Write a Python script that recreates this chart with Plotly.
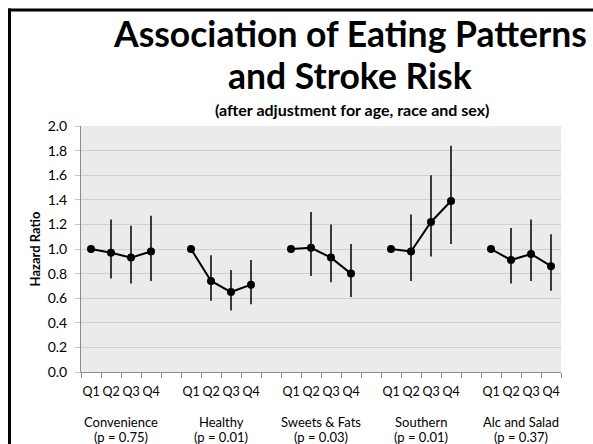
import plotly.graph_objects as go

# Hazard ratios by quartile for each dietary pattern (Q1 is the reference group)
groups = ["Convenience", "Healthy", "Sweets & Fats", "Southern", "Alc and Salad"]
p_values = ["0.75", "0.01", "0.03", "0.01", "0.37"]
quartiles = ["Q1", "Q2", "Q3", "Q4"]

hr_convenience = [1.00, 0.97, 0.93, 0.98]
hr_healthy = [1.00, 0.74, 0.65, 0.71]
hr_sweets = [1.00, 1.01, 0.93, 0.80]
hr_southern = [1.00, 0.98, 1.22, 1.39]
hr_alc_salad = [1.00, 0.91, 0.96, 0.86]

ci_low_convenience = [1.00, 0.76, 0.72, 0.74]
ci_high_convenience = [1.00, 1.24, 1.19, 1.27]
ci_low_healthy = [1.00, 0.58, 0.50, 0.55]
ci_high_healthy = [1.00, 0.95, 0.83, 0.91]
ci_low_sweets = [1.00, 0.78, 0.73, 0.61]
ci_high_sweets = [1.00, 1.30, 1.20, 1.04]
ci_low_southern = [1.00, 0.74, 0.94, 1.04]
ci_high_southern = [1.00, 1.28, 1.60, 1.84]
ci_low_alc_salad = [1.00, 0.72, 0.74, 0.66]
ci_high_alc_salad = [1.00, 1.17, 1.24, 1.12]

y_ticks = [0.0, 0.2, 0.4, 0.6, 0.8, 1.0, 1.2, 1.4, 1.6, 1.8, 2.0]

hr_all = [hr_convenience, hr_healthy, hr_sweets, hr_southern, hr_alc_salad]
lo_all = [ci_low_convenience, ci_low_healthy, ci_low_sweets, ci_low_southern, ci_low_alc_salad]
hi_all = [ci_high_convenience, ci_high_healthy, ci_high_sweets, ci_high_southern, ci_high_alc_salad]

FONT = "Lato"
W, H = 593, 444
ML, MR, MT, MB = 81, 32, 126, 72
PW, PH = W - ML - MR, H - MT - MB

def px(x):
    return (x - ML) / PW

def py(y):
    return (H - MB - y) / PH

fig = go.Figure()

# each pattern occupies 4 category slots followed by one empty slot
slot = 5
tickvals, ticktext = [], []
for g, name in enumerate(groups):
    xs = [g * slot + i + 0.5 for i in range(4)]
    tickvals += xs
    ticktext += quartiles
    hr = hr_all[g]
    plus = [h - v for h, v in zip(hi_all[g], hr)]
    minus = [v - l for l, v in zip(lo_all[g], hr)]
    fig.add_trace(go.Scatter(
        x=xs, y=hr, mode="lines+markers",
        line=dict(color="black", width=2),
        marker=dict(color="black", size=8),
        error_y=dict(type="data", symmetric=False, array=plus, arrayminus=minus,
                     color="black", thickness=1.5, width=0),
        showlegend=False, name=name,
    ))

n_slots = len(groups) * slot - 1

fig.update_xaxes(
    range=[0, n_slots], tickvals=tickvals, ticktext=ticktext,
    ticks="", showgrid=False, zeroline=False,
    showline=True, linecolor="#8c8c8c", linewidth=1,
    tickfont=dict(family=FONT, size=12.5, color="black"),
    minor=dict(tick0=0, dtick=1, ticks="outside", ticklen=5, tickcolor="#8c8c8c", showgrid=False),
    ticklabelstandoff=8,
)
fig.update_yaxes(
    range=[0, 2.0], tickvals=y_ticks, ticktext=[f"{v:.1f}" for v in y_ticks],
    ticks="outside", ticklen=5, tickcolor="#c8c8c8",
    showgrid=True, gridcolor="#d0d0d0", gridwidth=1, zeroline=False,
    showline=True, linecolor="#8c8c8c", linewidth=1,
    tickfont=dict(family=FONT, size=14, color="black"),
    ticklabelstandoff=5,
    title=dict(text="<b>Hazard Ratio</b>", font=dict(family=FONT, size=13, color="black"), standoff=4),
)

annotations = [
    dict(text="<b>Association of Eating Patterns</b>", x=px(350), y=py(34),
         font=dict(size=35.5, family=FONT, color="black")),
    dict(text="<b>and Stroke Risk</b>", x=px(350), y=py(76),
         font=dict(size=35.5, family=FONT, color="black")),
    dict(text="<b>(after adjustment for age, race and sex)</b>", x=px(352), y=py(109),
         font=dict(size=16, family=FONT, color="black")),
]
for g, (name, p) in enumerate(zip(groups, p_values)):
    cx = g * slot + 2
    annotations.append(dict(text=name, x=cx, xref="x", y=py(422),
                            font=dict(size=13, family=FONT, color="black")))
    annotations.append(dict(text=f"(p = {p})", x=cx, xref="x", y=py(437),
                            font=dict(size=13, family=FONT, color="black")))
for a in annotations:
    a.setdefault("xref", "paper")
    a.update(yref="paper", showarrow=False, xanchor="center", yanchor="middle")

fig.update_layout(
    width=W, height=H,
    margin=dict(l=ML, r=MR, t=MT, b=MB),
    paper_bgcolor="white", plot_bgcolor="#ebebeb",
    annotations=annotations,
    shapes=[
        dict(type="line", xref="paper", yref="paper", x0=px(8), x1=px(W + 5), y0=py(10), y1=py(10),
             line=dict(color="black", width=3)),
        dict(type="line", xref="paper", yref="paper", x0=px(9.5), x1=px(9.5), y0=py(8.5), y1=py(H + 5),
             line=dict(color="black", width=3)),
    ],
)

fig.write_html("out.html")
